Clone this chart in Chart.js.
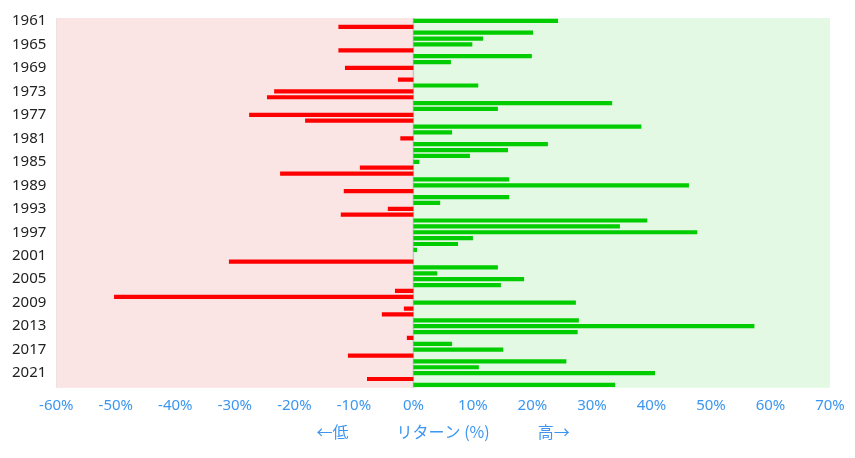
<!DOCTYPE html>
<html>
<head>
<meta charset="utf-8">
<script src="https://cdn.jsdelivr.net/npm/chart.js@4/dist/chart.umd.min.js"></script>
<style>
html,body{margin:0;padding:0;background:#fff;}
#wrap{width:855px;height:458px;}
</style>
</head>
<body>
<div id="wrap"><canvas id="c" width="855" height="458"></canvas></div>
<script>
const years = [];
for (let y = 1961; y <= 2023; y++) years.push(String(y));

const returns = [
  24.3, -12.6, 20.1, 11.7, 9.9, -12.6, 19.9, 6.3, -11.5, 0.0,
  -2.6, 10.9, -23.4, -24.6, 33.4, 14.2, -27.6, -18.2, 38.3, 6.5,
  -2.2, 22.6, 15.9, 9.5, 1.0, -9.0, -22.4, 16.1, 46.3, -11.7,
  16.1, 4.5, -4.3, -12.2, 39.3, 34.7, 47.7, 10.0, 7.5, 0.6,
  0.0, -31.0, 14.2, 4.0, 18.6, 14.7, -3.1, -50.3, 27.3, -1.6,
  -5.3, 27.8, 57.3, 27.6, -1.1, 6.5, 15.1, -11.0, 25.7, 11.0,
  40.6, -7.8, 33.9
];

const xMin = -60, xMax = 70, xStep = 10;
const axisTitle = '←低　　　リターン (%)　　　高→';

const bgPlugin = {
  id: 'bgZones',
  beforeDatasetsDraw(chart) {
    const {ctx, chartArea, scales} = chart;
    const x = scales.x;
    const x0 = x.getPixelForValue(0);
    const xl = x.getPixelForValue(xMin);
    const xr = x.getPixelForValue(xMax);
    ctx.save();
    ctx.fillStyle = '#fae4e4';
    ctx.fillRect(xl, chartArea.top, x0 - xl, chartArea.bottom - chartArea.top);
    ctx.fillStyle = '#e3f9e3';
    ctx.fillRect(x0, chartArea.top, xr - x0, chartArea.bottom - chartArea.top);
    ctx.strokeStyle = '#c8c8c8';
    ctx.lineWidth = 1.5;
    ctx.beginPath();
    ctx.moveTo(x0, chartArea.top);
    ctx.lineTo(x0, chartArea.bottom);
    ctx.stroke();
    ctx.restore();
  }
};

new Chart(document.getElementById('c'), {
  type: 'bar',
  data: {
    labels: years,
    datasets: [{
      data: returns,
      backgroundColor: returns.map(v => v < 0 ? '#ff0000' : '#00cc00'),
      borderWidth: 0,
      categoryPercentage: 0.8,
      barPercentage: 0.9
    }]
  },
  options: {
    indexAxis: 'y',
    responsive: false,
    animation: false,
    devicePixelRatio: 1,
    layout: { padding: { top: 18, right: 25, left: 10, bottom: 12 } },
    plugins: {
      legend: { display: false },
      tooltip: { enabled: false }
    },
    scales: {
      x: {
        min: xMin, max: xMax,
        grid: { display: false },
        border: { display: false },
        ticks: {
          stepSize: xStep,
          color: '#3c96f0',
          font: { family: '"Noto Sans", "Noto Sans CJK JP"', size: 15 },
          padding: 1,
          callback: v => v + '%'
        },
        title: {
          display: true,
          text: axisTitle,
          color: '#3c96f0',
          font: { family: '"Noto Sans CJK JP", "Noto Sans"', size: 16 },
          padding: { top: 7 }
        }
      },
      y: {
        grid: { display: false },
        border: { display: true, color: '#dddddd' },
        ticks: {
          autoSkip: false,
          padding: 2,
          color: '#222222',
          font: { family: '"Noto Sans", "Noto Sans CJK JP"', size: 15 },
          callback: function(v, i) { return i % 4 === 0 ? this.getLabelForValue(v) : null; }
        }
      }
    }
  },
  plugins: [bgPlugin]
});
</script>
</body>
</html>
